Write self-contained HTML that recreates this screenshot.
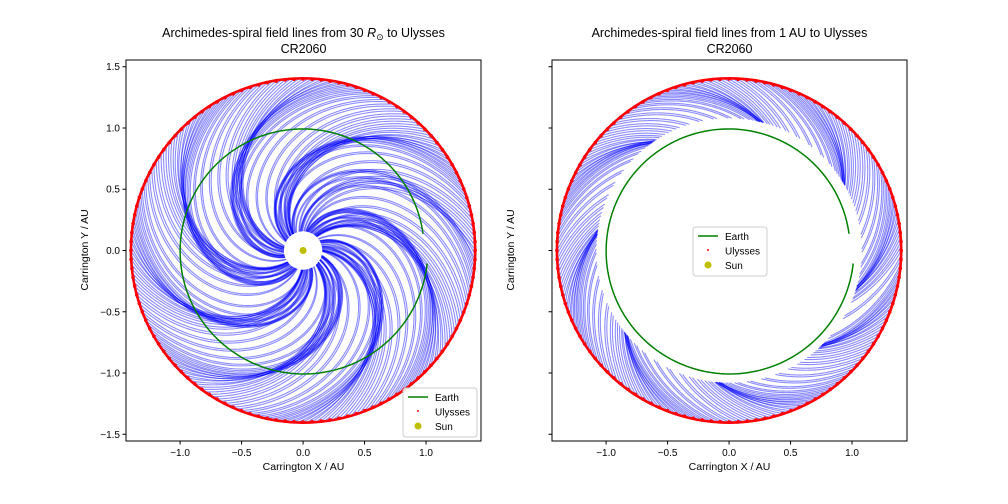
<!DOCTYPE html>
<html><head><meta charset="utf-8">
<style>
body{margin:0;background:#fff;}
svg{display:block;font-family:"Liberation Sans","DejaVu Sans",sans-serif;}
</style></head>
<body>
<svg id="fig" width="1008" height="504" viewBox="0 0 1008 504" xmlns="http://www.w3.org/2000/svg">
<rect x="0" y="0" width="1008" height="504" fill="#fff"/>
<defs>
<clipPath id="clipL"><rect x="126" y="60" width="355" height="381"/></clipPath>
<clipPath id="clipR"><rect x="552" y="60" width="355" height="381"/></clipPath>
</defs>
</svg>
<script>
// Ulysses footpoint angles (degrees), one per speed sample
const footAngles = [];
for (let i = 0; i < 120; i++) footAngles.push(i * 3);
// Solar wind speed (km/s) at each footpoint
const windSpeeds = [
 340,330,320,300,270,240,220,215,220,230,255,285,320,340,350,355,350,340,320,290,
 260,235,220,215,215,220,235,265,300,330,345,350,345,330,300,270,240,220,210,210,
 215,230,255,285,320,340,350,355,350,335,310,280,245,225,215,210,215,225,250,280,
 315,335,345,350,345,330,300,270,240,220,210,210,215,230,255,285,320,340,350,350,
 340,320,290,255,230,215,210,215,225,250,280,315,335,345,350,345,330,300,270,240,
 220,210,210,215,230,255,285,320,340,350,355,350,335,310,280,245,225,215,220,280
];
const ulyssesRadius = 1.40;
const innerLeft = 0.14, innerRight = 1.08;
const earthRadii = [0.985, 1.015];
const earthAngles = [8, 355];
const xTicks = [-1.0, -0.5, 0.0, 0.5, 1.0];
const yTicks = [1.5, 1.0, 0.5, 0.0, -0.5, -1.0, -1.5];
const xDomain = [-1.44, 1.447], yDomain = [-1.555, 1.555];

const NS = "http://www.w3.org/2000/svg";
const svg = document.getElementById('fig');
function mk(tag, attrs, parent){ const e=document.createElementNS(NS,tag); for(const k in attrs) e.setAttribute(k,attrs[k]); (parent||svg).appendChild(e); return e; }

function panel(x0, title1, title2, innerR, showYLabels, legendPos, clipId, pname, windSign, windFactor){
  const W=355,H=381,Y0=60;
  const sx = v => x0 + (v - xDomain[0])/(xDomain[1]-xDomain[0])*W;
  const sy = v => Y0 + (yDomain[1] - v)/(yDomain[1]-yDomain[0])*H;
  const g = mk('g',{'clip-path':'url(#'+clipId+')'});
  
  
  const OMEGA = 2*Math.PI/(25.38*86400);
  const AU = 1.496e8;
  const N = footAngles.length;
  for (let j=0;j<2*N;j++){
    const i = Math.floor(j/2);
    const th = (footAngles[i] + (j%2)*1.5)*Math.PI/180, v = windSpeeds[i];
    let d='';
    const n=80;
    for (let k=0;k<=n;k++){
      const r = innerR + (ulyssesRadius-innerR)*k/n;
      const phi = th + windSign*windFactor*OMEGA*(ulyssesRadius - r)*AU/v;
      d += (k?'L':'M') + sx(r*Math.cos(phi)).toFixed(2)+','+sy(r*Math.sin(phi)).toFixed(2);
    }
    const p = mk('path',{d:d,fill:'none',stroke:'#0000ff','stroke-opacity':0.45,'stroke-width':1.1},g);
    
    
  }
  let d='';
  for (let a=earthAngles[0]; a<=earthAngles[1]; a+=2){
    const t=(a-earthAngles[0])/(earthAngles[1]-earthAngles[0]);
    const r=earthRadii[0]+(earthRadii[1]-earthRadii[0])*t;
    const ar=a*Math.PI/180;
    d+=(d?'L':'M')+sx(r*Math.cos(ar)).toFixed(2)+','+sy(r*Math.sin(ar)).toFixed(2);
  }
  const e = mk('path',{d:d,fill:'none',stroke:'#008000','stroke-width':1.5},g);
  
  
  const uc = mk('circle',{cx:sx(0),cy:sy(0),r:(sx(ulyssesRadius)-sx(0)),fill:'none',stroke:'#ff0000','stroke-width':2.6},g);
  
  
  for (let i=0;i<footAngles.length;i++){
    const th=footAngles[i]*Math.PI/180;
    const c = mk('circle',{cx:sx(ulyssesRadius*Math.cos(th)),cy:sy(ulyssesRadius*Math.sin(th)),r:1.8,fill:'#ff0000'},g);
    
    
  }
  if (innerR < 0.5){
    const wc = mk('circle',{cx:sx(0),cy:sy(0),r:(sx(innerR)-sx(0))+2,fill:'#fff'},g);
    
    
    const s = mk('circle',{cx:sx(0),cy:sy(0),r:3.5,fill:'#bfbf00'},g);
    
    
  }
  const fr = mk('rect',{x:x0,y:Y0,width:W,height:H,fill:'none',stroke:'#000','stroke-width':1});
  
  
  for (const t of xTicks){
    const x=sx(t);
    mk('line',{x1:x,y1:Y0+H,x2:x,y2:Y0+H+3.5,stroke:'#000'});
    const tx = mk('text',{x:x,y:Y0+H+15,'font-size':10,'text-anchor':'middle'});
    tx.textContent = (t<0?'\u2212':'')+Math.abs(t).toFixed(1);
    
    
  }
  for (const t of yTicks){
    const y=sy(t);
    mk('line',{x1:x0,y1:y,x2:x0-3.5,y2:y,stroke:'#000'});
    if (showYLabels){
      const tx = mk('text',{x:x0-6,y:y+3.5,'font-size':10,'text-anchor':'end'});
      tx.textContent = (t<0?'\u2212':'')+Math.abs(t).toFixed(1);
      
      
    }
  }
  const xl = mk('text',{x:x0+W/2,y:470,'font-size':10.5,'text-anchor':'middle'});
  xl.textContent='Carrington X / AU';
  
  
  const yl = mk('text',{x:0,y:0,'font-size':10.5,'text-anchor':'middle',transform:'translate('+(x0-38)+',250) rotate(-90)'});
  yl.textContent='Carrington Y / AU';
  
  
  const t1 = mk('text',{x:x0+W/2,y:37,'font-size':12.5,'text-anchor':'middle'});
  t1.innerHTML = title1;
  
  
  const t2 = mk('text',{x:x0+W/2,y:53,'font-size':12.5,'text-anchor':'middle'});
  t2.textContent = title2;
  
  
  const [lx,ly]=legendPos;
  const lg = mk('g',{});
  
  
  mk('rect',{x:lx,y:ly,width:74,height:49,rx:3,fill:'#fff','fill-opacity':0.85,stroke:'#ccc'},lg);
  mk('line',{x1:lx+5,y1:ly+9,x2:lx+25,y2:ly+9,stroke:'#008000','stroke-width':1.5},lg);
  mk('circle',{cx:lx+15,cy:ly+23,r:1,fill:'#ff0000'},lg);
  mk('circle',{cx:lx+15,cy:ly+38,r:3.5,fill:'#bfbf00'},lg);
  const names=['Earth','Ulysses','Sun'];
  names.forEach((n,i)=>{
    const t=mk('text',{x:lx+32,y:ly+13+i*14.5,'font-size':10},lg);
    t.textContent=n;
    
    
  });
}
panel(126,'Archimedes-spiral field lines from 30 <tspan font-style="italic">R</tspan><tspan font-size="9" dy="3">\u2299</tspan><tspan dy="-3"> to Ulysses</tspan>','CR2060',innerLeft,true,[403,388],'clipL','left-panel',1,0.9);
panel(552,'Archimedes-spiral field lines from 1 AU to Ulysses','CR2060',innerRight,false,[693,227],'clipR','right-panel',-1,1.0);
</script>
</body></html>
